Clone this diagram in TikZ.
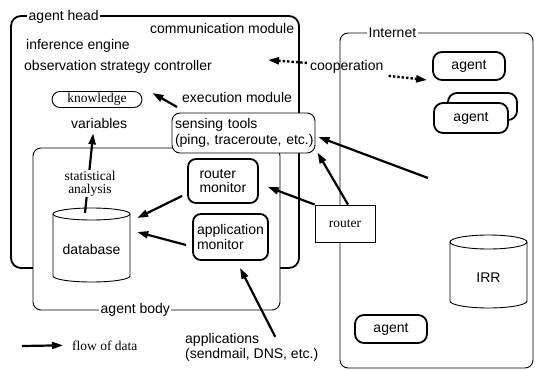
\documentclass[tikz,border=0pt]{standalone}
\usepackage{fontspec}
\setmainfont{Liberation Sans}
\newfontfamily\seriffont{Liberation Serif}
\usetikzlibrary{arrows.meta}
\begin{document}
\begin{tikzpicture}[x=1pt,y=-1pt,
  font=\fontsize{14}{14}\selectfont,
  thickbox/.style={draw, line width=1.8pt, rounded corners=8pt, inner sep=0pt},
  thinbox/.style={draw, line width=0.9pt, rounded corners=8pt, inner sep=0pt},
  lbl/.style={inner sep=0pt, anchor=base west},
  flow/.style={line width=2.2pt, -{Triangle[length=11pt,width=7pt]}},
  coopflow/.style={line width=2.4pt, dotted, -{Triangle[length=11pt,width=7pt]}},
  serifl/.style={font=\seriffont\fontsize{13.5}{13}\selectfont},
  cyl/.style={line width=0.9pt}
]
\useasboundingbox (0,0) rectangle (535,370);

% agent head
\node[thickbox, rounded corners=10pt, minimum width=288pt, minimum height=252pt] (head) at (155,142) {};
\node[lbl, fill=white, inner xsep=1.5pt] (headlbl) at (27,20) {agent head};
\node[lbl] (comm) at (150,33) {communication module};
\node[lbl] (infer) at (26,49) {inference engine};
\node[lbl] (obs) at (24,70) {observation strategy controller};
\node[lbl] (exec) at (182,102) {execution module};
\node[thinbox, minimum width=90pt, minimum height=16pt, serifl] (know) at (97,99.5) {knowledge};
\node[lbl] (var) at (71,128) {variables};

% agent body
\node[thinbox, fill=white, minimum width=247pt, minimum height=162pt] (body) at (156.5,229) {};
\node[lbl, fill=white, inner xsep=1.5pt] (bodylbl) at (99,313) {agent body};

% sensing tools
\node[thinbox, fill=white, minimum width=143pt, minimum height=40pt, align=left, text width=141pt, font=\fontsize{14}{16}\selectfont] (sense) at (243.5,133) {\hspace*{2pt}sensing tools\\\hspace*{2pt}(ping, traceroute, etc.)};

% database cylinder
\draw[cyl] (53,214) -- (53,276) arc[start angle=180, end angle=360, x radius=38.5pt, y radius=6pt] -- (130,214);
\draw[cyl] (91.5,214) ellipse [x radius=38.5pt, y radius=6pt];
\node[inner sep=0pt, minimum width=77pt, minimum height=66pt] (db) at (91.5,249) {database};

% monitors
\node[thickbox, minimum width=70pt, minimum height=44pt, align=left, text width=47pt, font=\fontsize{14}{13.5}\selectfont] (rm) at (223,181) {router\\monitor};
\node[thickbox, minimum width=75pt, minimum height=46pt, align=left, text width=67pt, font=\fontsize{14}{15}\selectfont] (am) at (230.5,237) {application\\monitor};

% Internet
\node[thinbox, minimum width=193pt, minimum height=335pt] (net) at (436.5,200.5) {};
\node[lbl, fill=white, inner xsep=1.5pt] (netlbl) at (367,37) {Internet};
\node[thickbox, rounded corners=9pt, minimum width=72pt, minimum height=28pt] (ag1) at (469,66) {agent};
\node[thickbox, rounded corners=9pt, fill=white, minimum width=69pt, minimum height=27pt] (ag2b) at (482.5,106.5) {};
\node[thickbox, rounded corners=9pt, fill=white, minimum width=74pt, minimum height=30pt] (ag2) at (471,118) {agent};
\node[thickbox, rounded corners=9pt, minimum width=72pt, minimum height=28pt] (ag3) at (391,329) {agent};

% IRR cylinder
\draw[cyl] (450,242) -- (450,301) arc[start angle=180, end angle=360, x radius=38.5pt, y radius=7pt] -- (527,242);
\draw[cyl] (488.5,242) ellipse [x radius=38.5pt, y radius=7pt];
\node[inner sep=0pt, minimum width=77pt, minimum height=60pt] (irr) at (488.5,278) {IRR};

% router
\node[draw, line width=0.9pt, fill=white, minimum width=60pt, minimum height=37pt, serifl] (router) at (345,223.5) {router};

% applications
\node[anchor=west, inner sep=0pt, align=left, font=\fontsize{14}{15}\selectfont] (apps) at (185,347) {applications\\(sendmail, DNS, etc.)};

% cooperation
\node[lbl] (coop) at (310,70) {cooperation};
\coordinate (commend) at (268,60);
\draw[coopflow] ([shift={(-3,-3.5)}]coop.west) -- (commend);
\draw[coopflow] ([shift={(5,9.5)}]coop.east) -- ([shift={(-5,14)}]ag1.west);

% data flows
\draw[flow] ([shift={(-5,10)}]exec.west) -- ([shift={(10,-6.5)}]know.east);
\draw[flow] ([shift={(-6.5,-3)}]db.north) -- ([shift={(-6,5)}]var.south);
\node[fill=white, inner sep=1pt, align=center, serifl] (stat) at (90,183.5) {statistical\\analysis};
\draw[flow] ([shift={(-5,-8)}]rm.south west) -- ([shift={(7,-31)}]db.east);
\draw[flow] ([shift={(-6,8)}]am.west) -- ([shift={(7,-17)}]db.east);
\draw[flow] (router.north west) -- ([shift={(9,6)}]rm.east);
\draw[flow] ([shift={(3,0)}]router.north) -- ([shift={(2,-1)}]sense.south east);
\coordinate (netsrc) at (428,178);
\draw[flow] (netsrc) -- ([shift={(3,4)}]sense.east);
\draw[flow] ([shift={(23.5,4)}]apps.north) -- ([shift={(9.5,7)}]am.south);

% legend
\coordinate (lgsrc) at (22,346);
\node[lbl, serifl] (legend) at (72,350) {flow of data};
\draw[flow] (lgsrc) -- ([xshift=-9pt]legend.west);
\end{tikzpicture}
\end{document}
